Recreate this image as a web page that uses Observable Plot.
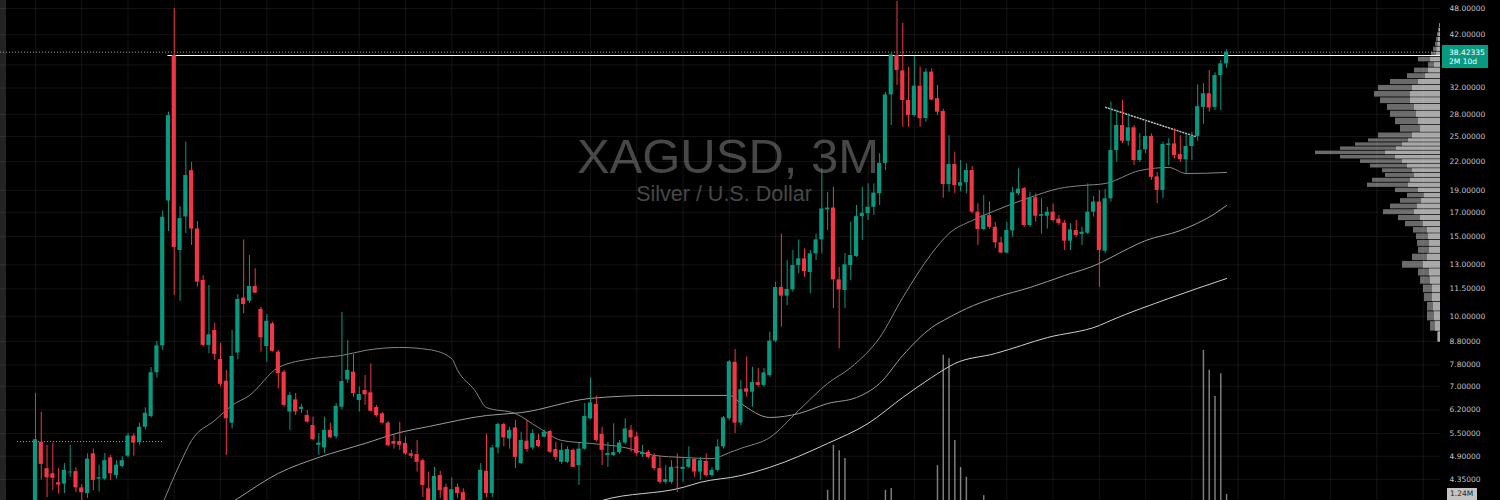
<!DOCTYPE html>
<html>
<head>
<meta charset="utf-8">
<script src="https://cdn.jsdelivr.net/npm/d3@7"></script>
<script src="https://cdn.jsdelivr.net/npm/@observablehq/plot@0.6"></script>
<style>
  html, body { margin: 0; padding: 0; background: #000; }
  #chart { position: relative; width: 1500px; height: 500px; overflow: hidden; background: #000; font-family: "DejaVu Sans", sans-serif; }
  #chart svg { position: absolute; left: 0; top: 0; }
  .sidebar { position: absolute; left: 0; top: 0; width: 6px; height: 500px; background: #232323; }
  .price-tag { position: absolute; left: 1442px; top: 45px; width: 46px; height: 23px; background: #089981; color: #fff;
               font-size: 7.5px; line-height: 9.5px; padding: 2.5px 0 0 7px; box-sizing: border-box; white-space: nowrap; }
  .vol-tag { position: absolute; left: 1447px; top: 488px; width: 30px; height: 13px; background: #c4c4c4; color: #1e1e1e;
             font-size: 7.5px; line-height: 12px; padding-left: 3px; box-sizing: border-box; white-space: nowrap; }
</style>
</head>
<body>
<div id="chart"></div>
<script>
// XAGUSD quarterly candles, 1974 Q1 (index 0) to 2025 Q3 (index 206)
const open = [
  3.30, 5.26, 4.60, 4.48, 4.28, 4.25, 4.50, 4.53, 4.17, 4.05,
  4.96, 4.36, 4.36, 4.86, 4.44, 4.65, 4.90, 5.43, 5.25, 5.68,
  6.00, 7.50, 8.60, 18.00, 37.78, 13.98, 16.59, 21.00, 15.60, 12.00,
  8.62, 9.30, 8.02, 7.18, 5.80, 8.29, 10.97, 10.80, 11.64, 10.35,
  8.57, 9.62, 8.33, 7.52, 6.14, 6.53, 6.22, 6.03, 5.73, 5.18,
  5.11, 5.59, 5.41, 6.29, 7.23, 7.52, 6.51, 6.85, 6.77, 6.28,
  6.08, 5.80, 5.28, 5.28, 5.23, 4.96, 4.94, 4.79, 4.15, 3.88,
  4.44, 4.18, 3.85, 4.18, 4.07, 3.78, 3.68, 3.82, 4.54, 4.05,
  5.11, 5.76, 5.35, 5.66, 4.72, 5.29, 5.11, 5.31, 5.40, 5.56,
  5.07, 4.75, 4.75, 5.05, 4.67, 5.08, 5.93, 6.38, 5.48, 4.92,
  4.92, 4.99, 5.24, 5.59, 5.41, 4.94, 5.00, 4.89, 4.60, 4.29,
  4.29, 4.63, 4.58, 4.63, 4.82, 4.52, 4.77, 4.44, 4.56, 5.14,
  5.93, 7.91, 5.80, 6.91, 6.79, 7.13, 7.03, 7.39, 8.81, 11.58,
  11.08, 11.44, 12.95, 13.40, 12.50, 13.75, 14.76, 17.20, 17.36, 12.04,
  11.40, 12.95, 13.56, 16.62, 16.86, 17.43, 18.67, 21.80, 30.90, 37.78,
  34.93, 30.03, 27.82, 32.30, 27.40, 34.70, 30.30, 28.40, 19.57, 21.67,
  19.40, 19.75, 21.02, 17.00, 15.56, 16.71, 15.74, 14.54, 13.80, 15.45,
  18.67, 19.16, 15.88, 18.30, 16.65, 16.65, 17.00, 16.40, 16.08, 14.66,
  15.48, 15.17, 15.27, 17.00, 17.90, 13.93, 18.20, 23.28, 26.44, 24.40,
  26.13, 22.12, 23.36, 25.00, 20.35, 18.99, 23.88, 24.08, 22.80, 22.20,
  23.76, 24.99, 29.00, 31.08, 29.00, 34.10, 36.20
];
const high = [
  6.75, 6.13, 5.18, 5.24, 4.60, 4.72, 5.18, 4.62, 4.24, 4.96,
  5.08, 4.68, 4.97, 4.92, 4.79, 4.89, 5.50, 5.50, 5.80, 6.27,
  7.70, 8.80, 17.10, 28.30, 48.00, 17.50, 24.30, 21.90, 16.20, 12.30,
  11.70, 9.65, 8.70, 7.59, 9.30, 11.17, 14.76, 13.63, 12.74, 10.47,
  10.09, 9.70, 8.40, 7.59, 6.79, 6.75, 6.38, 6.19, 5.98, 5.50,
  5.98, 5.80, 6.41, 10.20, 8.84, 8.23, 6.97, 7.39, 7.84, 6.35,
  6.12, 5.85, 5.45, 5.83, 5.40, 5.05, 5.31, 4.83, 4.52, 4.63,
  4.54, 4.25, 4.39, 4.25, 4.15, 3.92, 3.90, 4.72, 5.48, 5.18,
  5.80, 5.80, 5.68, 5.88, 5.54, 5.88, 5.61, 5.48, 5.59, 5.59,
  5.26, 5.23, 5.14, 5.08, 5.23, 6.41, 7.31, 6.65, 5.68, 5.26,
  5.78, 5.31, 5.93, 5.73, 5.54, 5.18, 5.05, 4.96, 4.90, 4.67,
  4.79, 4.96, 4.87, 5.14, 4.83, 4.87, 4.96, 4.62, 5.33, 6.00,
  7.98, 8.44, 7.21, 8.12, 7.71, 7.66, 7.66, 9.22, 11.90, 15.20,
  13.29, 13.98, 14.76, 14.10, 13.98, 15.20, 21.20, 18.82, 19.30, 12.84,
  13.77, 16.17, 17.59, 19.30, 19.64, 19.64, 22.90, 31.30, 38.10, 49.80,
  44.50, 35.60, 37.60, 35.60, 35.30, 35.30, 32.42, 28.74, 25.10, 23.08,
  22.12, 21.74, 21.45, 17.75, 18.51, 17.90, 16.12, 14.96, 16.15, 19.30,
  21.20, 19.30, 18.82, 18.67, 18.20, 17.43, 17.72, 16.71, 16.29, 16.03,
  16.29, 15.74, 19.64, 18.40, 18.99, 19.09, 29.80, 28.54, 30.10, 28.10,
  26.44, 25.33, 27.12, 25.33, 20.80, 24.30, 24.70, 26.00, 25.10, 25.30,
  25.55, 32.50, 32.70, 35.00, 34.60, 36.83, 38.90
];
const low = [
  3.25, 4.34, 3.97, 4.11, 4.04, 4.05, 4.40, 4.07, 3.91, 3.95,
  4.11, 4.08, 4.33, 4.33, 4.36, 4.62, 4.87, 4.90, 5.18, 5.60,
  5.95, 7.30, 8.40, 15.40, 11.12, 10.80, 15.25, 14.34, 11.60, 8.55,
  8.27, 7.98, 6.97, 4.92, 5.63, 8.01, 10.13, 10.68, 11.23, 8.33,
  7.91, 8.33, 6.91, 6.29, 5.59, 6.03, 6.09, 5.80, 5.30, 4.92,
  4.97, 5.36, 5.35, 6.20, 7.10, 6.62, 6.14, 6.35, 6.14, 5.98,
  5.78, 5.14, 5.08, 5.05, 4.92, 4.84, 4.52, 3.97, 3.80, 3.75,
  3.95, 3.80, 3.75, 3.95, 3.62, 3.60, 3.55, 3.72, 3.97, 3.97,
  4.96, 5.14, 5.08, 4.60, 4.70, 5.00, 5.05, 5.12, 5.38, 4.97,
  4.79, 4.70, 4.72, 4.62, 4.22, 5.05, 5.90, 5.26, 4.67, 4.63,
  4.90, 4.95, 5.20, 5.00, 4.90, 4.87, 4.83, 4.55, 4.25, 4.25,
  4.25, 4.07, 4.29, 4.60, 4.40, 4.33, 4.40, 4.40, 4.52, 5.08,
  5.88, 5.50, 5.73, 6.62, 6.29, 6.97, 6.97, 7.33, 8.75, 9.46,
  10.56, 11.30, 12.42, 12.20, 11.21, 13.29, 13.75, 15.48, 10.40, 8.47,
  10.41, 12.00, 13.50, 14.71, 16.29, 16.71, 17.59, 21.00, 26.44, 32.42,
  26.20, 26.20, 27.60, 26.20, 26.90, 30.00, 27.82, 18.25, 18.82, 18.67,
  18.85, 18.67, 16.85, 14.34, 15.48, 15.60, 14.10, 13.75, 13.75, 14.96,
  18.51, 15.74, 15.74, 16.15, 15.20, 15.60, 16.15, 15.88, 13.98, 13.98,
  14.96, 14.34, 15.17, 16.57, 11.58, 13.75, 17.90, 21.90, 24.08, 23.80,
  21.56, 21.90, 22.90, 19.98, 17.75, 18.20, 21.56, 22.30, 21.90, 20.62,
  22.12, 24.40, 26.60, 28.30, 28.54, 28.50, 35.40
];
const close = [
  5.33, 4.70, 4.39, 4.38, 4.23, 4.56, 4.52, 4.17, 4.07, 4.83,
  4.33, 4.39, 4.79, 4.48, 4.68, 4.79, 5.43, 5.24, 5.68, 6.10,
  7.50, 8.60, 16.56, 27.80, 14.20, 16.45, 20.49, 15.60, 11.90, 8.62,
  9.10, 8.23, 7.07, 5.93, 8.15, 10.90, 10.62, 11.64, 11.25, 8.96,
  9.75, 8.36, 7.46, 6.35, 6.68, 6.14, 6.29, 5.83, 5.33, 5.24,
  5.59, 5.38, 6.32, 7.17, 7.59, 6.74, 6.71, 6.70, 6.16, 6.03,
  5.80, 5.17, 5.21, 5.18, 4.96, 4.90, 4.75, 4.22, 3.85, 4.42,
  4.11, 3.88, 4.13, 4.05, 3.75, 3.68, 3.82, 4.56, 4.05, 5.11,
  5.76, 5.38, 5.59, 4.87, 5.31, 5.07, 5.50, 5.15, 5.54, 5.00,
  4.87, 5.05, 5.07, 4.63, 5.08, 6.00, 6.43, 5.31, 5.05, 4.97,
  4.99, 5.24, 5.63, 5.38, 4.97, 4.99, 4.87, 4.60, 4.29, 4.35,
  4.63, 4.61, 4.63, 4.82, 4.52, 4.79, 4.44, 4.56, 5.14, 5.96,
  7.93, 5.80, 6.88, 6.79, 7.13, 7.03, 7.49, 8.81, 11.58, 11.08,
  11.46, 12.95, 13.40, 12.56, 13.75, 14.76, 17.28, 17.36, 12.04, 11.44,
  13.00, 13.63, 16.62, 16.90, 17.43, 18.73, 21.80, 30.90, 37.90, 35.00,
  30.03, 27.82, 32.30, 27.36, 34.70, 30.10, 28.30, 19.57, 21.67, 19.47,
  19.75, 21.02, 17.00, 15.56, 16.71, 15.74, 14.54, 13.80, 15.48, 18.77,
  19.12, 15.88, 18.30, 16.65, 16.79, 17.00, 16.29, 16.05, 14.66, 15.53,
  15.09, 15.35, 17.00, 17.90, 13.98, 18.20, 23.28, 26.44, 24.40, 26.13,
  22.12, 23.28, 25.00, 20.30, 18.99, 24.00, 24.08, 22.69, 22.20, 23.76,
  24.99, 29.10, 31.08, 28.90, 34.10, 36.20, 38.42335
];

// Moving averages of the close (50, 100 and 200 bars), sampled by bar index
const sma50Idx  = [22,25,27,31,34,37,42,48,53,57,63,68,72,73,76,78,83,87,91,96,102,107,112,117,120,122,127,132,137,141,146,150,155,158,162,166,172,177,181,185,191,196,199,206];
const sma50Val  = [3.85,4.72,5.31,5.88,6.35,6.68,7.70,8.06,8.19,8.40,8.53,8.44,8.06,7.59,6.85,6.28,6.09,5.67,5.31,5.23,5.12,4.92,4.87,4.84,4.99,5.10,5.39,6.19,7.10,7.70,8.97,11.00,13.77,15.25,16.29,17.14,18.32,19.18,19.47,19.67,21.02,21.35,20.70,20.81];
const sma100Idx = [33,35,42,49,57,63,68,78,84,96,107,120,122,127,132,137,142,146,150,155,158,161,166,172,178,184,186,192,198,204,206];
const sma100Val = [3.80,3.95,4.49,4.87,5.23,5.53,5.70,6.03,6.12,6.58,6.68,6.68,6.41,5.97,6.09,6.41,6.61,7.10,8.19,9.44,9.94,10.40,11.00,11.58,12.31,13.09,13.49,14.71,15.48,16.88,17.59];
const sma200Idx = [93,98,112,115,122,127,137,144,150,155,159,166,175,184,186,196,206];
const sma200Val = [3.71,3.91,4.18,4.29,4.44,4.63,5.23,5.79,6.61,7.32,7.86,8.27,8.97,9.54,9.79,10.95,12.12];

// Volume (millions) for the bars that report it
const volIdx = [137,138,139,140,147,148,156,157,158,159,160,161,164,202,203,204,205,206];
const volM   = [2.1,11.4,10.3,8.7,2.1,2.5,7.2,30.0,29.3,12.4,6.8,4.8,1.0,31.0,26.9,21.5,26.2,1.24];

// Visible-range volume profile: row price, total volume, up volume
const profilePrice = [44,43,42,41,40,39,38,37,36,35,34,33,32,31,30,29,28,27,26,25,24.5,24,23.5,23,22.5,22,21.5,21,20.5,20,19.5,19,18.5,18,17.5,17,16.5,16,15.5,15,14.5,14,13.5,13,12.5,12,11.5,11,10.5,10,9.5,9];
const profileTotal = [1,2,3,4,5,7,9,22,12,26,33,50,62,66,60,53,50,45,40,62,72,85,100,125,100,80,70,58,55,68,73,45,33,40,50,57,42,35,27,24,23,22,28,38,22,20,17,16,13,13,10,3];
const profileUp    = [0.5,1,1.5,2,2.5,3.5,4,10,6,12,15,22,28,30,30,26,24,22,20,28,32,38,44,55,45,38,33,28,26,30,32,22,16,19,23,26,20,17,13,12,11,11,13,17,11,10,8,8,7,6,5,2];

// Price axis labels and grid
const priceTicks = [48, 42, 32, 28, 25, 22, 19, 17, 15, 13, 11.5, 10, 8.8, 7.8, 7.0, 6.2, 5.5, 4.9, 4.35];
const gridPrices = [48, 42, 36, 32, 28, 25, 22, 19, 17, 15, 13, 11.5, 10, 8.8, 7.8, 7.0, 6.2, 5.5, 4.9, 4.35];
const timeGrid = d3.range(0, 241, 8); // every two years

// Drawings
const resistance = {price: 37.78, from: 22.9};
const lastPrice = 38.42335;
const baseLine = {price: 5.28, from: -3.1, to: 22};
const trend = [{i: 185.1, p: 29.0}, {i: 200.6, p: 25.0}];

const title = "XAGUSD, 3M";
const subtitle = "Silver / U.S. Dollar";

const up = "#089981", down = "#f23645";
const candles = close.map((c, i) => ({i, open: open[i], high: high[i], low: low[i], close: c}));
const col = d => d.close >= d.open ? up : down;
const sma = (idx, val) => idx.map((i, k) => ({i, v: val[k]}));
const volumes = volIdx.map((i, k) => ({i, v: volM[k]}));
const profileRows = profilePrice.map((p, k) => ({
  top: k === 0 ? p + 0.5 : (profilePrice[k - 1] + p) / 2,
  bottom: k === profilePrice.length - 1 ? p - 0.25 : (p + profilePrice[k + 1]) / 2,
  total: profileTotal[k], up: profileUp[k]
}));

const W = 1500, H = 500, AXIS = 60;
const xDomain = [-6.053, 243.0];
const yDomain = [3.91, 50.0];
const frame = {width: W, height: H, marginLeft: 0, marginRight: AXIS, marginTop: 0, marginBottom: 0,
               style: {background: "transparent", overflow: "visible"}};

const chart = document.getElementById("chart");
const side = document.createElement("div"); side.className = "sidebar"; chart.appendChild(side);

// Volume pane
chart.appendChild(Plot.plot({
  ...frame,
  x: {domain: xDomain, axis: null},
  y: {domain: [0, 103.3], axis: null},
  marks: [Plot.ruleX(volumes, {x: "i", y1: 0, y2: "v", stroke: "#7c7c7c", strokeWidth: 1.5})]
}));

// Volume profile anchored to the right edge of the pane
chart.appendChild(Plot.plot({
  ...frame,
  x: {domain: [0, 130], range: [1440, 1310], axis: null},
  y: {type: "log", domain: yDomain, axis: null},
  marks: [
    Plot.rect(profileRows, {x1: 0, x2: "total", y1: "bottom", y2: "top", fill: "#6a6a6a", insetTop: 0.4, insetBottom: 0.4}),
    Plot.rect(profileRows, {x1: 0, x2: "up", y1: "bottom", y2: "top", fill: "#a8a8a8", insetTop: 0.4, insetBottom: 0.4})
  ]
}));

// Price pane
chart.appendChild(Plot.plot({
  ...frame,
  style: {...frame.style, color: "#c2c2c2", fontFamily: "DejaVu Sans, sans-serif", fontSize: "7.5px"},
  x: {domain: xDomain, axis: null},
  y: {type: "log", domain: yDomain, axis: null},
  marks: [
    Plot.text([title], {frameAnchor: "top", dx: 7.5, dy: 172, lineAnchor: "bottom", fontSize: 49, fill: "#474747", fontFamily: "Liberation Sans, Arial, sans-serif"}),
    Plot.text([subtitle], {frameAnchor: "top", dx: 3.5, dy: 200, lineAnchor: "bottom", fontSize: 21.5, fill: "#474747", fontFamily: "Liberation Sans, Arial, sans-serif"}),
    Plot.gridY(gridPrices, {stroke: "#ffffff", strokeOpacity: 0.075}),
    Plot.gridX(timeGrid, {stroke: "#ffffff", strokeOpacity: 0.075}),
    Plot.line(sma(sma50Idx, sma50Val), {x: "i", y: "v", stroke: "#858585", strokeWidth: 1, curve: "monotone-x", clip: true}),
    Plot.line(sma(sma100Idx, sma100Val), {x: "i", y: "v", stroke: "#9c9c9c", strokeWidth: 1, curve: "monotone-x", clip: true}),
    Plot.line(sma(sma200Idx, sma200Val), {x: "i", y: "v", stroke: "#cfcfcf", strokeWidth: 1, curve: "monotone-x", clip: true}),
    Plot.ruleY([lastPrice], {x1: xDomain[0], x2: xDomain[1], stroke: "#a0a0a0", strokeDasharray: "1,2"}),
    Plot.ruleY([baseLine], {y: "price", x1: "from", x2: "to", stroke: "#a8a8a8", strokeDasharray: "1,2"}),
    Plot.line(trend, {x: "i", y: "p", stroke: "#bdbdbd", strokeDasharray: "1,2"}),
    Plot.ruleY([resistance], {y: "price", x1: "from", x2: xDomain[1], stroke: "#ffffff", strokeWidth: 1.2}),
    Plot.ruleX(candles, {x: "i", y1: "low", y2: "high", stroke: col, strokeWidth: 1, clip: true}),
    Plot.rect(candles, {x1: d => d.i - 0.36, x2: d => d.i + 0.36, y1: "open", y2: "close", fill: col, clip: true}),
    Plot.axisY(priceTicks, {anchor: "right", tickSize: 0, tickPadding: 9, tickFormat: d3.format(".5f"), label: null})
  ]
}));

// Last price and last volume tags on the price scale
const tag = document.createElement("div");
tag.className = "price-tag";
tag.innerHTML = d3.format(".5f")(lastPrice) + "<br>2M 10d";
chart.appendChild(tag);
const vtag = document.createElement("div");
vtag.className = "vol-tag";
vtag.textContent = volM[volM.length - 1].toFixed(2) + "M";
chart.appendChild(vtag);
</script>
</body>
</html>
